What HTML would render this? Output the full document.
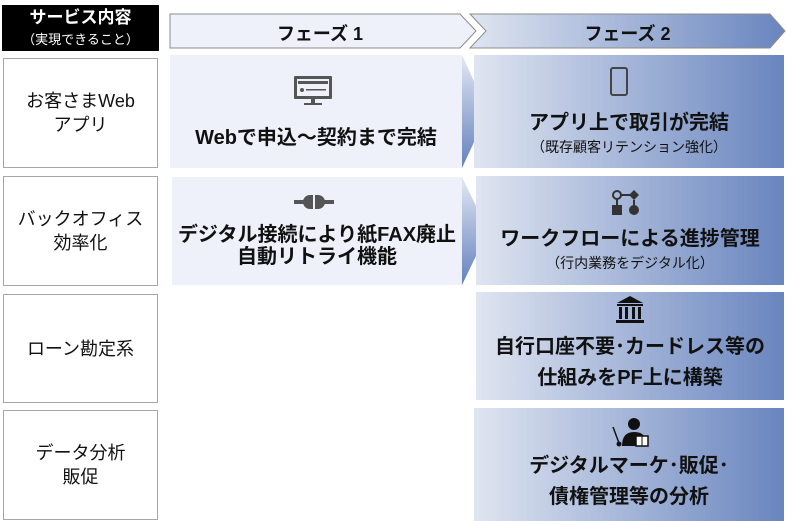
<!DOCTYPE html>
<html><head><meta charset="utf-8"><style>
body{margin:0;width:786px;height:521px;background:#fff;position:relative;overflow:hidden;font-family:"Liberation Sans","Noto Sans CJK JP",sans-serif;}
.a{position:absolute;}
.lb{position:absolute;left:3px;width:155px;border:1px solid #a6a6a6;box-sizing:border-box;display:flex;align-items:center;justify-content:center;text-align:center;font-size:18px;line-height:24px;color:#111;}
.t{position:absolute;text-align:center;font-weight:bold;color:#111;}
.s{font-size:14px;font-weight:normal;line-height:17px;}
</style></head><body>
<svg class="a" style="left:0;top:0" width="786" height="521">
<defs>
<linearGradient id="g" x1="0" x2="1" y1="0" y2="0"><stop offset="0" stop-color="#dfe5f1"/><stop offset="1" stop-color="#6985bf"/></linearGradient>
<linearGradient id="v" x1="0" x2="0" y1="0" y2="1"><stop offset="0" stop-color="#e3e8f3"/><stop offset="1" stop-color="#6480be"/></linearGradient>
</defs>
<rect x="2" y="5" width="157" height="46" fill="#000"/>
<polygon points="170,14 460,14 476,31 460,48 170,48" fill="#eef1f9" stroke="#8c8c8c" stroke-width="1"/>
<polygon points="470,14 770,14 785,31 770,48 470,48 486,31" fill="url(#g)" stroke="#8c8c8c" stroke-width="1"/>
<rect x="170" y="55" width="292" height="113" fill="#eef1f9"/>
<rect x="172" y="177" width="290" height="108" fill="#eef1f9"/>
<polygon points="462,55 488,112 462,168" fill="url(#v)"/>
<polygon points="462,177 488,231 462,285" fill="url(#v)"/>
<rect x="474" y="55" width="310" height="113" fill="url(#g)"/>
<rect x="476" y="176" width="308" height="109" fill="url(#g)"/>
<rect x="476" y="292" width="308" height="108" fill="url(#g)"/>
<rect x="474" y="408" width="310" height="113" fill="url(#g)"/>
<rect x="294" y="76" width="38" height="23" rx="1" fill="#555"/>
<rect x="297" y="79" width="32" height="17" fill="#eef1f9"/>
<rect x="298" y="81" width="30" height="3" fill="#555"/>
<circle cx="302" cy="90" r="2" fill="#555"/><rect x="306" y="89" width="20" height="1.5" fill="#555"/>
<rect x="311" y="99" width="4" height="4" fill="#555"/><rect x="304" y="103" width="18" height="2" fill="#555"/>
<rect x="294" y="200" width="12" height="4" fill="#555"/><rect x="322" y="200" width="12" height="4" fill="#555"/>
<path d="M313,195 h-3 a7,7 0 0 0 0,14 h3z M315,195 h3 a7,7 0 0 1 0,14 h-3z" fill="#555"/>
<rect x="611" y="68" width="16" height="27" rx="2" fill="none" stroke="#444" stroke-width="2"/>
<circle cx="617" cy="195" r="4" fill="none" stroke="#333" stroke-width="2"/><line x1="621" y1="195" x2="630" y2="195" stroke="#333" stroke-width="2"/>
<polygon points="634,190 639,195 634,200 629,195" fill="#333"/><line x1="617" y1="199" x2="617" y2="206" stroke="#333" stroke-width="2"/><line x1="634" y1="200" x2="634" y2="206" stroke="#333" stroke-width="2"/>
<rect x="612" y="205" width="10" height="10" fill="#333"/><circle cx="634" cy="210" r="5" fill="#333"/>
<polygon points="617,303 630,296 643,303" fill="#111"/><rect x="617" y="304" width="26" height="2" fill="#111"/>
<rect x="619" y="307" width="3" height="12" fill="#111"/><rect x="625" y="307" width="3" height="12" fill="#111"/><rect x="632" y="307" width="3" height="12" fill="#111"/><rect x="638" y="307" width="3" height="12" fill="#111"/>
<rect x="616" y="320" width="28" height="3" fill="#111"/>
<circle cx="634" cy="424" r="6" fill="#111"/><path d="M622,446 q0,-14 12,-14 q10,0 12,8 h-10 v6z" fill="#111"/>
<rect x="636" y="436" width="12" height="10" fill="#fff" stroke="#111" stroke-width="1.5"/><line x1="642" y1="436" x2="642" y2="446" stroke="#111"/>
<line x1="613" y1="427" x2="619" y2="443" stroke="#111" stroke-width="1.5"/><circle cx="619" cy="444" r="2.5" fill="#111"/>
</svg>
<div class="t" style="left:2px;top:7px;width:157px;color:#fff;font-size:17px;line-height:21px;">サービス内容<br><span style="font-size:13px;font-weight:normal;line-height:16px;">（実現できること）</span></div>
<div class="t" style="left:170px;top:20px;width:300px;font-size:18px;">フェーズ 1</div>
<div class="t" style="left:475px;top:20px;width:305px;font-size:18px;">フェーズ 2</div>
<div class="lb" style="top:58px;height:110px;">お客さまWeb<br>アプリ</div>
<div class="lb" style="top:176px;height:110px;">バックオフィス<br>効率化</div>
<div class="lb" style="top:294px;height:109px;">ローン勘定系</div>
<div class="lb" style="top:410px;height:110px;">データ分析<br>販促</div>
<div class="t" style="left:170px;top:121px;width:292px;font-size:20px;">Webで申込～契約まで完結</div>
<div class="t" style="left:172px;top:224px;width:290px;font-size:20px;line-height:22px;">デジタル接続により紙FAX廃止<br>自動リトライ機能</div>
<div class="t" style="left:474px;top:112px;width:310px;font-size:20px;line-height:23px;">アプリ上で取引が完結<br><span class="s">（既存顧客リテンション強化）</span></div>
<div class="t" style="left:476px;top:228px;width:308px;font-size:20px;line-height:23px;">ワークフローによる進捗管理<br><span class="s">（行内業務をデジタル化）</span></div>
<div class="t" style="left:476px;top:332px;width:308px;font-size:20px;line-height:31px;">自行口座不要･カードレス等の<br>仕組みをPF上に構築</div>
<div class="t" style="left:474px;top:451px;width:310px;font-size:20px;line-height:31px;">デジタルマーケ･販促･<br>債権管理等の分析</div>
</body></html>
